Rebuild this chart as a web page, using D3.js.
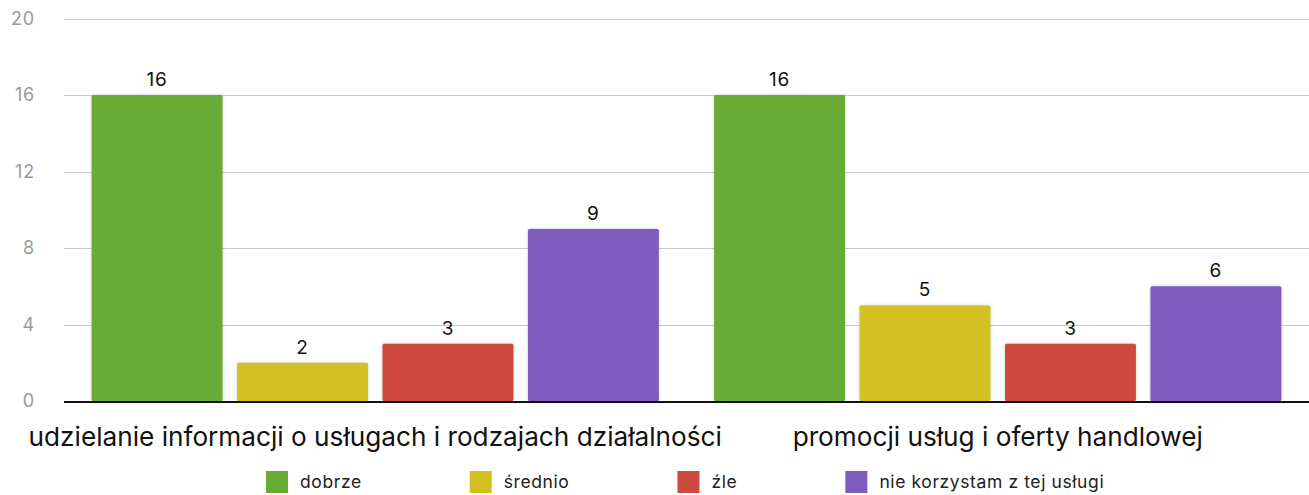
<!DOCTYPE html>
<html>
<head>
<meta charset="utf-8">
<script src="https://cdn.jsdelivr.net/npm/d3@7"></script>
<style>
  body { margin: 0; background: #fff; }
  svg { display: block; font-family: Inter, Roboto, "Noto Sans", sans-serif; }
</style>
</head>
<body>
<svg width="1309" height="495"></svg>
<script>
// chart data
const categories = ["udzielanie informacji o usługach i rodzajach działalności", "promocji usług i oferty handlowej"]
const series = ["dobrze", "średnio", "źle", "nie korzystam z tej usługi"]
const values = [
    [16, 2, 3, 9],
    [16, 5, 3, 6]
]
const yTicks = [0, 4, 8, 12, 16, 20]
const colors = ["#69ac34", "#d3c020", "#cd4a3e", "#7d5cbe"]

const svg = d3.select("svg")
const WIDTH = 1309
const margin = {left: 64, right: 0, top: 18.5, bottom: 94}
const plotBottom = 401

const x0 = d3.scaleBand()
    .domain(categories)
    .range([margin.left, WIDTH])
    .padding(0)

const x1 = d3.scaleBand()
    .domain(series)
    .range([0, x0.bandwidth()])
    .paddingInner(0.1)
    .paddingOuter(0.19)

const y = d3.scaleLinear()
    .domain([0, 20])
    .range([plotBottom, margin.top])

// shadow for bars
const defs = svg.append("defs")
const f = defs.append("filter").attr("id", "shadow")
    .attr("x", "-10%").attr("y", "-10%").attr("width", "120%").attr("height", "120%")
f.append("feDropShadow")
    .attr("dx", 0).attr("dy", 0)
    .attr("stdDeviation", 1.6)
    .attr("flood-color", "#888")
    .attr("flood-opacity", 0.45)

// grid lines
svg.append("g")
    .selectAll("line")
    .data(yTicks.filter(d => d > 0))
    .enter().append("line")
    .attr("x1", margin.left)
    .attr("x2", WIDTH)
    .attr("y1", d => Math.round(y(d)) + 0.5)
    .attr("y2", d => Math.round(y(d)) + 0.5)
    .attr("stroke", "#c8c8c8")
    .attr("stroke-width", 1)

// y tick labels
svg.append("g")
    .selectAll("text")
    .data(yTicks)
    .enter().append("text")
    .attr("x", 35)
    .attr("y", d => y(d))
    .attr("dy", "0.35em")
    .attr("text-anchor", "end")
    .attr("fill", "#9a9a9a")
    .attr("font-size", 18)
    .attr("letter-spacing", 0.8)
    .text(d => d)

// bars
const groups = svg.append("g")
    .selectAll("g")
    .data(categories)
    .enter().append("g")
    .attr("transform", d => `translate(${x0(d)},0)`)

groups.selectAll("rect")
    .data((d, i) => values[i].map((v, j) => ({key: series[j], value: v, idx: j})))
    .enter().append("rect")
    .attr("x", d => x1(d.key))
    .attr("width", x1.bandwidth())
    .attr("y", d => y(d.value))
    .attr("height", d => plotBottom - y(d.value))
    .attr("rx", 1.5)
    .attr("fill", d => colors[d.idx])
    .attr("filter", "url(#shadow)")

groups.selectAll("text.val")
    .data((d, i) => values[i].map((v, j) => ({key: series[j], value: v})))
    .enter().append("text")
    .attr("class", "val")
    .attr("x", d => x1(d.key) + x1.bandwidth() / 2)
    .attr("y", d => y(d.value) - 9)
    .attr("text-anchor", "middle")
    .attr("font-size", 19)
    .attr("letter-spacing", 0.8)
    .attr("fill", "#111")
    .text(d => d.value)

// baseline
svg.append("line")
    .attr("x1", margin.left)
    .attr("x2", WIDTH)
    .attr("y1", plotBottom + 1)
    .attr("y2", plotBottom + 1)
    .attr("stroke", "#111")
    .attr("stroke-width", 2)

// category labels
svg.append("g")
    .selectAll("text")
    .data(categories)
    .enter().append("text")
    .attr("x", d => x0(d) + x0.bandwidth() / 2)
    .attr("y", 446)
    .attr("text-anchor", "middle")
    .attr("font-size", 26.2)
    .attr("fill", "#111")
    .text(d => d)

// legend
const legend = svg.append("g").attr("transform", "translate(266,482)")
let lx = 0
series.forEach((s, i) => {
    const item = legend.append("g").attr("transform", `translate(${lx},0)`)
    item.append("rect")
        .attr("x", 0).attr("y", -11)
        .attr("width", 22).attr("height", 22)
        .attr("fill", colors[i])
    const t = item.append("text")
        .attr("x", 34)
        .attr("dy", "0.35em")
        .attr("font-size", 17.5)
        .attr("letter-spacing", 0.6)
        .attr("fill", "#222")
        .text(s)
    lx += 34 + t.node().getComputedTextLength() + 108
})
</script>
</body>
</html>
